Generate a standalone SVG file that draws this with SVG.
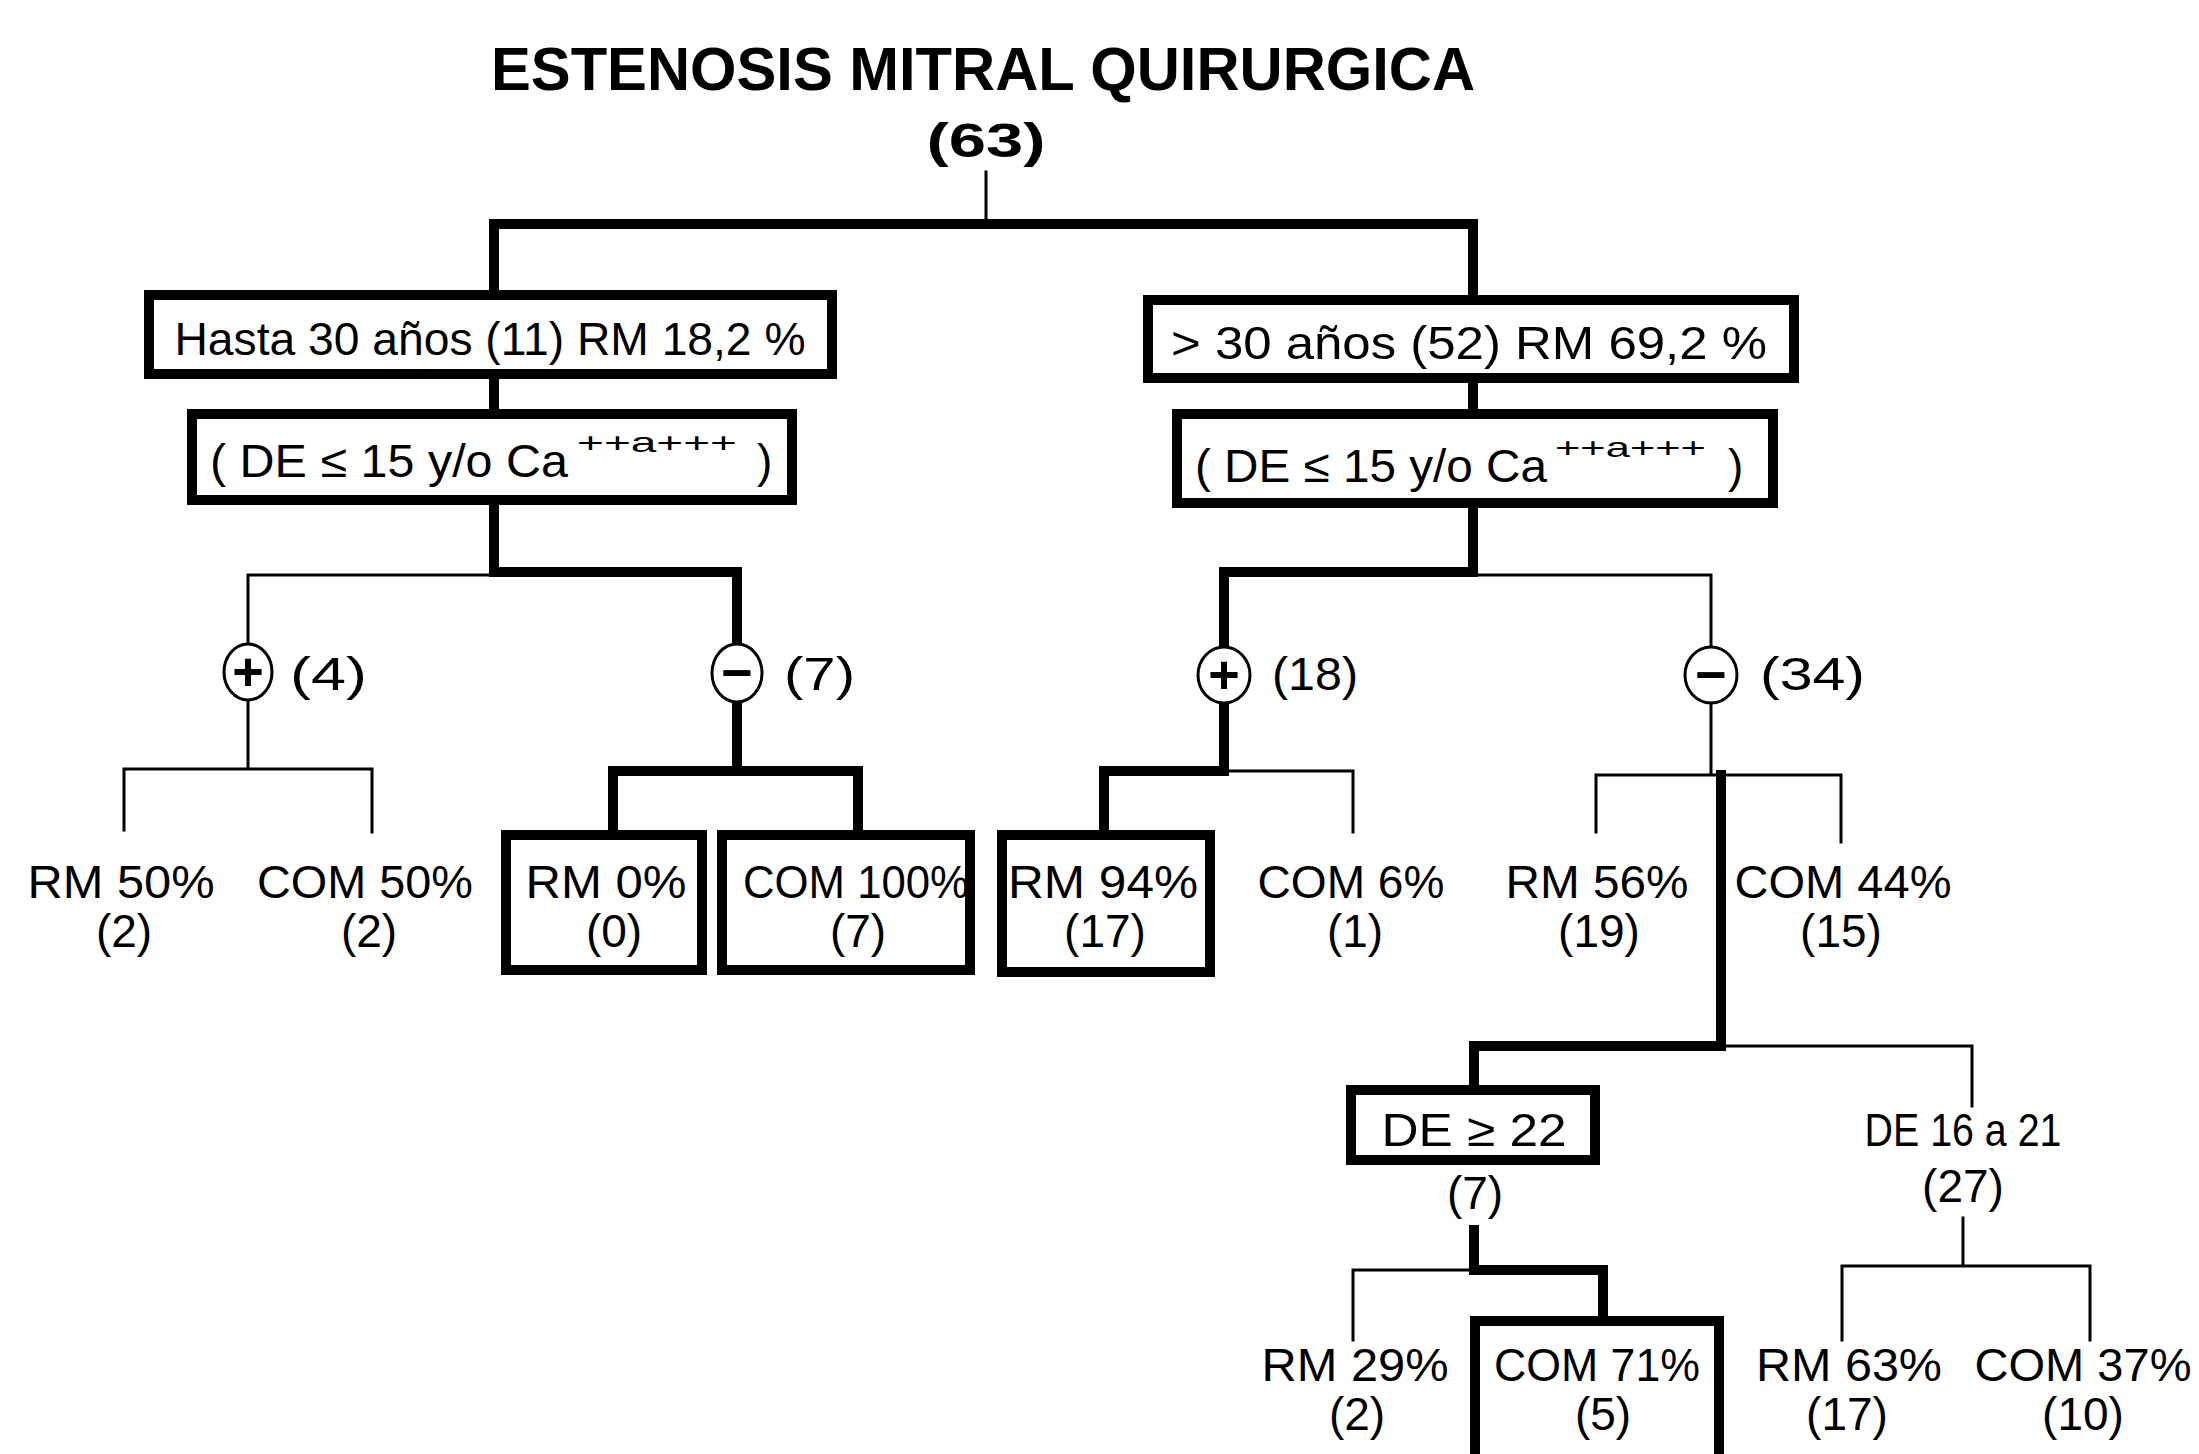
<svg xmlns="http://www.w3.org/2000/svg" width="2199" height="1454" viewBox="0 0 2199 1454">
<style>
text{font-family:"Liberation Sans",Arial,sans-serif;fill:#000}
.t{font-size:46px;text-anchor:middle}
.s{font-size:46px}
.k{fill:none;stroke:#000;stroke-width:10;stroke-linecap:square}
.n{fill:none;stroke:#000;stroke-width:3;stroke-linecap:square}
.box{fill:#fff;stroke:#000;stroke-width:10}
.c{fill:#fff;stroke:#000;stroke-width:3}
.sg{font-size:54px;font-weight:bold;text-anchor:middle}
.sup{font-size:28px}
</style>
<rect width="2199" height="1454" fill="#fff"/>
<g id="connectors">
<path class="n" d="M986 172V224"/>
<path class="k" d="M494 292V224H1473V297"/>
<path class="k" d="M494 379V409M1473 383V409"/>
<path class="k" d="M494 505V572H737V645"/>
<path class="n" d="M494 575H248V645"/>
<path class="n" d="M248 700V769M124 830V769H372V832"/>
<path class="k" d="M737 701V771M613 832V771H858V832"/>
<path class="k" d="M1473 508V572H1224V648"/>
<path class="n" d="M1473 575H1711V648"/>
<path class="k" d="M1224 701V771H1104V832"/>
<path class="n" d="M1224 771H1353V832"/>
<path class="n" d="M1711 701V775M1596 832V775H1841V842"/>
<path class="k" d="M1721 775V1046H1474V1087"/>
<path class="n" d="M1721 1046H1972V1106"/>
<path class="k" d="M1474 1230V1270H1603V1318"/>
<path class="n" d="M1474 1270H1353V1340"/>
<path class="n" d="M1963 1218V1266M1842 1340V1266H2090V1340"/>
</g>
<g id="title">
<text x="983" y="90" font-size="62" font-weight="bold" text-anchor="middle" textLength="984" lengthAdjust="spacingAndGlyphs">ESTENOSIS MITRAL QUIRURGICA</text>
<text x="986" y="157" font-size="48" font-weight="bold" text-anchor="middle" textLength="119" lengthAdjust="spacingAndGlyphs">(63)</text>
</g>
<g id="hasta30">
<rect class="box" x="149" y="295" width="683" height="79"/>
<text class="t" x="490" y="355" font-size="44" textLength="631" lengthAdjust="spacingAndGlyphs">Hasta 30 años (11) RM 18,2 %</text>
</g>
<g id="de15-left">
<rect class="box" x="192" y="414" width="600" height="86"/>
<text class="s" y="477"><tspan x="210" textLength="358" lengthAdjust="spacingAndGlyphs">( DE ≤ 15 y/o Ca</tspan><tspan class="sup" x="577" y="452" textLength="160" lengthAdjust="spacingAndGlyphs">++a+++</tspan><tspan x="757" y="477">)</tspan></text>
</g>
<g id="mas30">
<rect class="box" x="1148" y="300" width="646" height="78"/>
<text class="t" x="1469" y="359" font-size="44" textLength="596" lengthAdjust="spacingAndGlyphs">&gt; 30 años (52) RM 69,2 %</text>
</g>
<g id="de15-right">
<rect class="box" x="1177" y="414" width="596" height="89"/>
<text class="s" y="482"><tspan x="1195" textLength="352" lengthAdjust="spacingAndGlyphs">( DE ≤ 15 y/o Ca</tspan><tspan class="sup" x="1555" y="457" textLength="151" lengthAdjust="spacingAndGlyphs">++a+++</tspan><tspan x="1728" y="482">)</tspan></text>
</g>
<g id="pos-left">
<ellipse class="c" cx="248" cy="672" rx="24" ry="28"/>
<text class="sg" x="248" y="690">+</text>
<text class="s" x="290" y="690" textLength="77" lengthAdjust="spacingAndGlyphs">(4)</text>
</g>
<g id="neg-left">
<ellipse class="c" cx="737" cy="673" rx="25" ry="29"/>
<text class="sg" x="737" y="691">−</text>
<text class="s" x="784" y="690" textLength="71" lengthAdjust="spacingAndGlyphs">(7)</text>
</g>
<g id="pos-right">
<ellipse class="c" cx="1224" cy="675" rx="26" ry="28"/>
<text class="sg" x="1224" y="693">+</text>
<text class="s" x="1272" y="690" textLength="86" lengthAdjust="spacingAndGlyphs">(18)</text>
</g>
<g id="neg-right">
<ellipse class="c" cx="1711" cy="675" rx="26" ry="28"/>
<text class="sg" x="1711" y="693">−</text>
<text class="s" x="1760" y="690" textLength="105" lengthAdjust="spacingAndGlyphs">(34)</text>
</g>
<g id="rm50">
<text class="t" x="121" y="898" textLength="187" lengthAdjust="spacingAndGlyphs">RM 50%</text>
<text class="t" x="124" y="947">(2)</text>
</g>
<g id="com50">
<text class="t" x="365" y="898" textLength="216" lengthAdjust="spacingAndGlyphs">COM 50%</text>
<text class="t" x="369" y="947">(2)</text>
</g>
<g id="rm0">
<rect class="box" x="506" y="835" width="196" height="135"/>
<text class="t" x="606" y="898" textLength="161" lengthAdjust="spacingAndGlyphs">RM 0%</text>
<text class="t" x="614" y="947">(0)</text>
</g>
<g id="com100">
<rect class="box" x="722" y="835" width="248" height="135"/>
<text class="t" x="856" y="898" textLength="226" lengthAdjust="spacingAndGlyphs">COM 100%</text>
<text class="t" x="858" y="947">(7)</text>
</g>
<g id="rm94">
<rect class="box" x="1002" y="835" width="208" height="137"/>
<text class="t" x="1103" y="898" textLength="190" lengthAdjust="spacingAndGlyphs">RM 94%</text>
<text class="t" x="1105" y="947">(17)</text>
</g>
<g id="com6">
<text class="t" x="1351" y="898" textLength="187" lengthAdjust="spacingAndGlyphs">COM 6%</text>
<text class="t" x="1355" y="947">(1)</text>
</g>
<g id="rm56">
<text class="t" x="1597" y="898" textLength="183" lengthAdjust="spacingAndGlyphs">RM 56%</text>
<text class="t" x="1599" y="947">(19)</text>
</g>
<g id="com44">
<text class="t" x="1843" y="898" textLength="217" lengthAdjust="spacingAndGlyphs">COM 44%</text>
<text class="t" x="1841" y="947">(15)</text>
</g>
<g id="de22">
<rect class="box" x="1351" y="1090" width="244" height="70"/>
<text class="t" x="1474" y="1146" textLength="185" lengthAdjust="spacingAndGlyphs">DE ≥ 22</text>
<text class="t" x="1475" y="1209">(7)</text>
</g>
<g id="de16a21">
<text class="t" x="1963" y="1146" textLength="197" lengthAdjust="spacingAndGlyphs">DE 16 a 21</text>
<text class="t" x="1963" y="1202">(27)</text>
</g>
<g id="rm29">
<text class="t" x="1355" y="1381" textLength="187" lengthAdjust="spacingAndGlyphs">RM 29%</text>
<text class="t" x="1357" y="1430">(2)</text>
</g>
<g id="com71">
<rect class="box" x="1475" y="1321" width="244" height="145"/>
<text class="t" x="1597" y="1381" textLength="206" lengthAdjust="spacingAndGlyphs">COM 71%</text>
<text class="t" x="1603" y="1430">(5)</text>
</g>
<g id="rm63">
<text class="t" x="1849" y="1381" textLength="186" lengthAdjust="spacingAndGlyphs">RM 63%</text>
<text class="t" x="1847" y="1430">(17)</text>
</g>
<g id="com37">
<text class="t" x="2083" y="1381" textLength="217" lengthAdjust="spacingAndGlyphs">COM 37%</text>
<text class="t" x="2083" y="1430">(10)</text>
</g>
</svg>
